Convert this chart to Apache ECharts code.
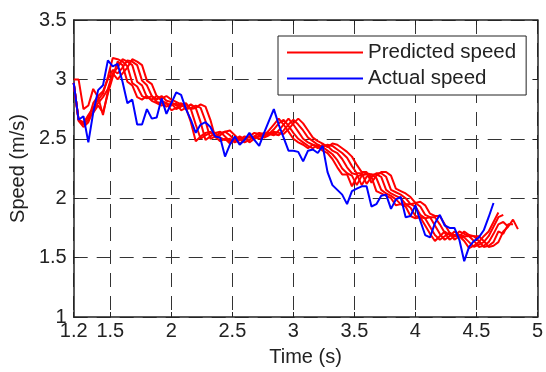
<!DOCTYPE html>
<html>
<head>
<meta charset="utf-8">
<script src="https://cdn.jsdelivr.net/npm/echarts@6/dist/echarts.min.js"></script>
<style>
  html, body { margin: 0; padding: 0; background: #fff; }
  #chart { width: 546px; height: 372px; }
</style>
</head>
<body>
<div id="chart"></div>
<script>
// sample times (s), 0.04 s step
const times = [
  1.20, 1.24, 1.28, 1.32, 1.36, 1.40, 1.44, 1.48, 1.52, 1.56,
  1.60, 1.64, 1.68, 1.72, 1.76, 1.80, 1.84, 1.88, 1.92, 1.96,
  2.00, 2.04, 2.08, 2.12, 2.16, 2.20, 2.24, 2.28, 2.32, 2.36,
  2.40, 2.44, 2.48, 2.52, 2.56, 2.60, 2.64, 2.68, 2.72, 2.76,
  2.80, 2.84, 2.88, 2.92, 2.96, 3.00, 3.04, 3.08, 3.12, 3.16,
  3.20, 3.24, 3.28, 3.32, 3.36, 3.40, 3.44, 3.48, 3.52, 3.56,
  3.60, 3.64, 3.68, 3.72, 3.76, 3.80, 3.84, 3.88, 3.92, 3.96,
  4.00, 4.04, 4.08, 4.12, 4.16, 4.20, 4.24, 4.28, 4.32, 4.36,
  4.40, 4.44, 4.48, 4.52, 4.56, 4.60, 4.64, 4.68, 4.72, 4.76,
  4.80, 4.84
];

const actualSpeed = [
  2.97, 2.66, 2.69, 2.47, 2.72, 2.91, 2.95, 3.16, 3.11, 3.13,
  2.98, 2.80, 2.83, 2.62, 2.62, 2.75, 2.67, 2.68, 2.84, 2.71,
  2.80, 2.89, 2.87, 2.75, 2.66, 2.55, 2.62, 2.64, 2.60, 2.52,
  2.51, 2.35, 2.45, 2.52, 2.45, 2.49, 2.55, 2.49, 2.44, 2.55,
  2.65, 2.75, 2.62, 2.51, 2.40, 2.40, 2.39, 2.31, 2.40, 2.41,
  2.38, 2.44, 2.22, 2.11, 2.07, 2.03, 1.95, 2.06, 2.08, 2.10,
  2.10, 1.93, 1.95, 2.02, 2.03, 1.91, 1.99, 2.01, 1.84, 1.85,
  1.94, 1.81, 1.69, 1.67, 1.79, 1.86, 1.77, 1.75, 1.75, 1.65,
  1.47, 1.59, 1.64, 1.67, 1.73, 1.84, 1.96
];

// predicted speed, one line per prediction horizon
const predicted1 = [
  2.97, 2.66, 2.64, 2.68, 2.72, 2.78, 2.72, 2.88, 3.02, 3.15,
  3.12, 2.98, 2.95, 2.85, 2.83, 2.86, 2.82, 2.80, 2.78, 2.80,
  2.74, 2.76, 2.79, 2.76, 2.64, 2.48, 2.52, 2.55, 2.56, 2.52,
  2.48, 2.50, 2.46, 2.49, 2.52, 2.50, 2.52, 2.55, 2.54, 2.53,
  2.57, 2.62, 2.67, 2.62, 2.56, 2.50, 2.47, 2.45, 2.42, 2.45,
  2.44, 2.40, 2.38, 2.33, 2.26, 2.20, 2.20, 2.10, 2.18, 2.20,
  2.20, 2.18, 2.06, 2.04, 2.02, 2.00, 1.94, 1.95, 1.93, 1.85,
  1.83, 1.84, 1.77, 1.70, 1.64, 1.68, 1.72, 1.69, 1.68, 1.68,
  1.64, 1.58, 1.60, 1.63, 1.68, 1.72, 1.80, 1.88
];
const predicted2 = [
  2.97, 2.66, 2.63, 2.70, 2.76, 2.83, 2.88, 3.02, 3.18, 3.17,
  3.15, 3.11, 2.97, 2.94, 2.86, 2.84, 2.86, 2.81, 2.80, 2.77,
  2.80, 2.75, 2.77, 2.79, 2.75, 2.62, 2.50, 2.53, 2.55, 2.55,
  2.51, 2.49, 2.50, 2.47, 2.49, 2.52, 2.51, 2.52, 2.55, 2.54,
  2.54, 2.58, 2.63, 2.66, 2.61, 2.55, 2.50, 2.47, 2.44, 2.42,
  2.45, 2.43, 2.40, 2.37, 2.32, 2.25, 2.21, 2.19, 2.11, 2.19,
  2.21, 2.20, 2.17, 2.07, 2.04, 2.02, 1.99, 1.95, 1.95, 1.92,
  1.85, 1.84, 1.83, 1.76, 1.69, 1.65, 1.68, 1.71, 1.69, 1.68,
  1.67, 1.63, 1.59, 1.61, 1.63, 1.68, 1.76, 1.84, 1.86
];
const predicted3 = [
  2.97, 2.65, 2.60, 2.64, 2.74, 2.80, 2.85, 2.92, 3.05, 3.10,
  3.17, 3.15, 3.12, 2.98, 2.95, 2.85, 2.83, 2.86, 2.82, 2.80,
  2.78, 2.80, 2.74, 2.76, 2.79, 2.76, 2.64, 2.49, 2.52, 2.55,
  2.56, 2.52, 2.48, 2.50, 2.46, 2.49, 2.52, 2.50, 2.52, 2.55,
  2.54, 2.53, 2.57, 2.62, 2.67, 2.62, 2.56, 2.50, 2.47, 2.45,
  2.42, 2.45, 2.44, 2.40, 2.38, 2.33, 2.26, 2.21, 2.20, 2.11,
  2.18, 2.20, 2.20, 2.18, 2.07, 2.04, 2.02, 2.00, 1.95, 1.95,
  1.93, 1.86, 1.83, 1.84, 1.77, 1.70, 1.65, 1.68, 1.72, 1.69,
  1.68, 1.68, 1.64, 1.59, 1.60, 1.63, 1.70, 1.78, 1.80, 1.76
];
const predicted4 = [
  2.97, 2.66, 2.62, 2.66, 2.80, 2.86, 2.90, 3.00, 3.08, 3.05,
  3.10, 3.16, 3.15, 3.12, 2.99, 2.95, 2.86, 2.83, 2.86, 2.82,
  2.81, 2.78, 2.80, 2.75, 2.76, 2.78, 2.76, 2.65, 2.50, 2.52,
  2.55, 2.56, 2.53, 2.48, 2.50, 2.47, 2.49, 2.52, 2.50, 2.52,
  2.55, 2.54, 2.53, 2.57, 2.62, 2.66, 2.62, 2.57, 2.51, 2.48,
  2.45, 2.43, 2.45, 2.44, 2.41, 2.38, 2.34, 2.27, 2.21, 2.21,
  2.12, 2.18, 2.21, 2.21, 2.18, 2.07, 2.05, 2.03, 2.00, 1.95,
  1.96, 1.93, 1.86, 1.84, 1.84, 1.78, 1.71, 1.65, 1.68, 1.72,
  1.70, 1.68, 1.68, 1.64, 1.59, 1.60, 1.63, 1.72, 1.70, 1.78,
  1.78
];
const predicted5 = [
  3.00, 3.00, 2.75, 2.78, 2.92, 2.85, 2.70, 2.90, 3.05, 3.00,
  3.05, 3.10, 3.17, 3.15, 3.12, 2.99, 2.96, 2.86, 2.84, 2.86,
  2.83, 2.81, 2.79, 2.80, 2.75, 2.76, 2.79, 2.77, 2.66, 2.51,
  2.53, 2.56, 2.57, 2.53, 2.49, 2.51, 2.47, 2.50, 2.53, 2.51,
  2.53, 2.56, 2.55, 2.54, 2.58, 2.63, 2.67, 2.63, 2.57, 2.51,
  2.48, 2.46, 2.43, 2.46, 2.45, 2.42, 2.39, 2.35, 2.28, 2.22,
  2.22, 2.13, 2.19, 2.22, 2.22, 2.19, 2.08, 2.06, 2.04, 2.01,
  1.96, 1.97, 1.94, 1.87, 1.85, 1.85, 1.78, 1.71, 1.65, 1.68,
  1.72, 1.69, 1.68, 1.68, 1.64, 1.59, 1.60, 1.63, 1.72, 1.76,
  1.82, 1.74
];

const xTicks = [1.2, 1.5, 2, 2.5, 3, 3.5, 4, 4.5, 5];

const FONT = '"Liberation Sans", Arial, Helvetica, sans-serif';
const INK = '#222';
const gridDash = { color: '#333', width: 1, type: [14, 9] };
const frame = { show: true, onZero: false, lineStyle: { color: INK, width: 1.5 } };

const toPairs = (vals) => vals.map((v, i) => [times[i], v]);

const predictedLines = [predicted1, predicted2, predicted3, predicted4, predicted5];

const chart = echarts.init(document.getElementById('chart'), null, { renderer: 'canvas' });

const option = {
  animation: false,
  backgroundColor: '#fff',
  textStyle: { fontFamily: FONT, color: INK },
  grid: { left: 71, right: 2, top: 20, bottom: 54 },
  legend: {
    orient: 'vertical',
    left: 278,
    top: 36,
    padding: [6, 10, 6, 9],
    itemGap: 5,
    itemWidth: 76,
    itemHeight: 2,
    icon: 'rect',
    backgroundColor: '#fff',
    borderColor: INK,
    borderWidth: 1,
    borderRadius: 0,
    textStyle: { fontSize: 20.5, fontFamily: FONT, color: INK, lineHeight: 20 },
    data: [{ name: 'Predicted speed' }, { name: 'Actual speed' }],
  },
  xAxis: [
    {
      type: 'value',
      position: 'bottom',
      min: 1.2,
      max: 5,
      axisLine: frame,
      axisTick: { inside: true, length: 5, customValues: xTicks, lineStyle: { color: INK } },
      axisLabel: { customValues: xTicks, fontSize: 20, color: INK, fontFamily: FONT, margin: 4 },
      splitLine: { show: true, customValues: xTicks, lineStyle: gridDash },
      name: 'Time (s)',
      nameLocation: 'middle',
      nameGap: 30,
      nameTextStyle: { fontSize: 20, color: INK, fontFamily: FONT },
    },
    {
      type: 'value',
      position: 'top',
      min: 1.2,
      max: 5,
      axisLine: frame,
      axisTick: { inside: true, length: 5, customValues: xTicks, lineStyle: { color: INK } },
      axisLabel: { show: false },
      splitLine: { show: false },
    },
  ],
  yAxis: [
    {
      type: 'value',
      position: 'left',
      min: 1,
      max: 3.5,
      interval: 0.5,
      axisLine: frame,
      axisTick: { inside: true, length: 5, lineStyle: { color: INK } },
      axisLabel: { fontSize: 20, color: INK, fontFamily: FONT, margin: 7 },
      splitLine: { show: true, lineStyle: gridDash },
      name: 'Speed (m/s)',
      nameLocation: 'middle',
      nameGap: 35,
      nameTextStyle: { fontSize: 20, color: INK, fontFamily: FONT },
    },
    {
      type: 'value',
      position: 'right',
      min: 1,
      max: 3.5,
      interval: 0.5,
      axisLine: frame,
      axisTick: { inside: true, length: 5, lineStyle: { color: INK } },
      axisLabel: { show: false },
      splitLine: { show: false },
    },
  ],
  series: [
    ...predictedLines.map((vals) => ({
      type: 'line',
      name: 'Predicted speed',
      data: toPairs(vals),
      symbol: 'none',
      color: '#ff0000',
      lineStyle: { color: '#ff0000', width: 2 },
      z: 2,
    })),
    {
      type: 'line',
      name: 'Actual speed',
      data: toPairs(actualSpeed),
      symbol: 'none',
      color: '#0000ff',
      lineStyle: { color: '#0000ff', width: 2 },
      z: 3,
    },
  ],
};

chart.setOption(option);
</script>
</body>
</html>
